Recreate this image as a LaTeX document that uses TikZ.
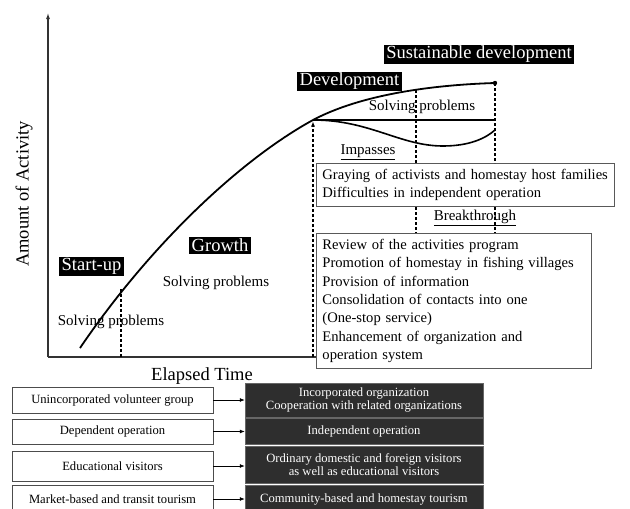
\documentclass[tikz,border=0pt]{standalone}
\usepackage{fontspec}
\setmainfont{Liberation Serif}
\usetikzlibrary{arrows.meta}

\begin{document}
\begin{tikzpicture}[x=1pt, y=-1pt,
    stagelabel/.style={fill=black, text=white, inner xsep=2.5pt, inner ysep=1.5pt, font=\fontsize{18.5}{20}\selectfont},
    remark/.style={inner sep=1pt, font=\fontsize{15}{18.3}\selectfont},
    listbox/.style={draw=black!65, fill=white, line width=0.9pt, anchor=north west, align=left, inner xsep=6pt, inner ysep=5.8pt, font=\fontsize{14.6}{18.3}\selectfont},
    oldbox/.style={draw=black!70, fill=white, line width=0.9pt, minimum width=201pt, align=center, font=\fontsize{12.6}{13.5}\selectfont},
    newbox/.style={draw=black!60, fill=black!82, text=white, minimum width=238pt, align=center, font=\fontsize{12.6}{13.5}\selectfont},
    dropline/.style={dash pattern=on 3pt off 2pt, line width=1.1pt},
    change/.style={line width=0.8pt, -{Latex[length=5pt, width=4pt]}}]

    \useasboundingbox (0,0) rectangle (630,509);

    % axes
    \coordinate (origin) at (48,357);
    \coordinate (ytop) at (48,13);
    \draw[line width=1.1pt, black!80, -{Latex[length=6pt, width=4pt]}] (origin) -- (ytop);
    \node[rotate=90, font=\fontsize{18.5}{20}\selectfont] (ylabel) at (24,194) {Amount of Activity};
    \node[font=\fontsize{18.5}{20}\selectfont] (xlabel) at (202,376) {Elapsed Time};

    % points on the curve
    \coordinate (begin) at (80,348);
    \coordinate (stup) at (121,289);
    \coordinate (devel) at (313,120);
    \coordinate (mid) at (416,90);
    \coordinate (sust) at (495,83);
    \coordinate (sustlow) at (495,130);

    % boxes of the last stage
    \node[listbox, text width=286pt] (stall) at (316,163) {Graying of activists and homestay host families\\Difficulties in independent operation};
    \node[listbox, text width=263pt] (thru) at (316,233) {Review of the activities program\\Promotion of homestay in fishing villages\\Provision of information\\Consolidation of contacts into one\\(One-stop service)\\Enhancement of organization and\\operation system};

    \draw[line width=1.1pt, black!80] (origin) -- (origin -| thru.west);

    % dashed lines down to the axis
    \draw[dropline] (stup) -- (stup |- origin);
    \draw[dropline, -{Latex[length=5pt, width=4pt]}] (devel |- origin) -- ([yshift=-1.5pt]devel);

    % dashed lines between the boxes
    \draw[dropline] (mid) -- (mid |- stall.north);
    \draw[dropline] (sust) -- (sust |- stall.north);
    \draw[dropline] (mid |- stall.south) -- (mid |- thru.north);
    \draw[dropline] (sust |- stall.south) -- (sust |- thru.north);

    % growth curve
    \draw[line width=1.8pt] (begin) .. controls (150,245) and (240,160) .. (devel) .. controls (360,95) and (430,85) .. (sust);
    \fill (sust) circle (2.2pt);

    % solving problems line and the dip
    \draw[line width=1.6pt] (devel) -- (devel -| sust);
    \draw[line width=1.6pt] (devel) .. controls (370,120) and (400,146) .. (443,146) .. controls (470,146) and (486,138) .. (sustlow);

    % stage labels
    \node[stagelabel] (startup) at (91.5,266.5) {Start-up};
    \node[stagelabel] (growth) at (220,245.5) {Growth};
    \node[stagelabel] (develop) at (349.5,81.5) {Development};
    \node[stagelabel] (sustain) at (479,54.5) {Sustainable development};

    \node[remark] (solve1) at (111,322) {Solving problems};
    \node[remark] (solve2) at (216,283) {Solving problems};
    \node[remark] (solve3) at (422,107) {Solving problems};
    \node[remark] (stalltag) at (368,152) {\underline{Impasses}};
    \node[remark] (thrutag) at (475,218) {\underline{Breakthrough}};

    % before -> after
    \node[oldbox, minimum height=26pt] (old1) at (112.5,400) {Unincorporated volunteer group};
    \node[newbox, minimum height=34pt] (new1) at (364,400) {Incorporated organization\\Cooperation with related organizations};
    \draw[change] (old1) -- (old1 -| new1.west);

    \node[oldbox, minimum height=25pt] (old2) at (112.5,431.5) {Dependent operation};
    \node[newbox, minimum height=26pt] (new2) at (364,431) {Independent operation};
    \draw[change] (old2) -- (old2 -| new2.west);

    \node[oldbox, minimum height=30pt] (old3) at (112.5,466) {Educational visitors};
    \node[newbox, minimum height=37pt] (new3) at (364,464.5) {Ordinary domestic and foreign visitors\\as well as educational visitors};
    \draw[change] (old3) -- (old3 -| new3.west);

    \node[oldbox, minimum height=28pt] (old4) at (112.5,499) {Market-based and transit tourism};
    \node[newbox, minimum height=28pt] (new4) at (364,499) {Community-based and homestay tourism};
    \draw[change] (old4) -- (old4 -| new4.west);

\end{tikzpicture}
\end{document}
